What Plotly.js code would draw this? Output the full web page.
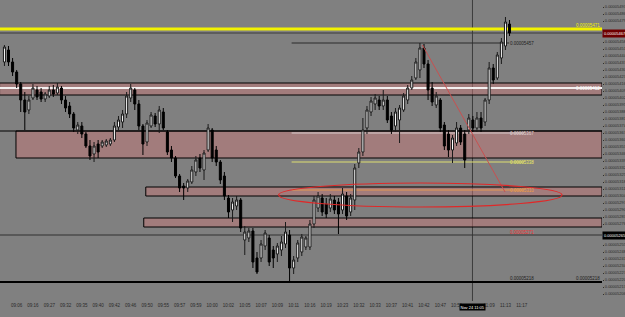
<!DOCTYPE html>
<html><head><meta charset="utf-8">
<script src="https://cdn.plot.ly/plotly-3.0.1.min.js"></script>
<style>html,body{margin:0;padding:0;background:#808080;}#chart{width:625px;height:317px;}</style>
</head><body><div id="chart"></div>
<script>
// time labels, one every 4 bars
const timeLabels = ["09:06","09:16","09:27","09:32","09:35","09:40","09:42","09:46","09:50","09:55","09:57","09:59",
  "10:00","10:02","10:05","10:07","10:09","10:11","10:16","10:19","10:23","10:32","10:33","10:37","10:41","10:42",
  "10:47","10:51","11:05","11:09","11:13","11:17"];
const cursorTime = "Nov 24 11:05";

const openP = [5438e-8,5450e-8,5438e-8,5428e-8,5416e-8,5400e-8,5390e-8,5402e-8,5410e-8,5408e-8,5401e-8,5404e-8,5410e-8,5407e-8,5412e-8,5400e-8,5394e-8,5386e-8,5370e-8,5374e-8,
5366e-8,5354e-8,5346e-8,5356e-8,5354e-8,5355e-8,5356e-8,5360e-8,5373e-8,5378e-8,5386e-8,5402e-8,5410e-8,5396e-8,5374e-8,5358e-8,5374e-8,5384e-8,5376e-8,5388e-8,
5368e-8,5350e-8,5342e-8,5324e-8,5314e-8,5312e-8,5318e-8,5328e-8,5342e-8,5330e-8,5350e-8,5370e-8,5350e-8,5338e-8,5324e-8,5302e-8,5290e-8,5294e-8,5300e-8,5260e-8,
5262e-8,5269e-8,5242e-8,5242e-8,5254e-8,5262e-8,5250e-8,5246e-8,5250e-8,5256e-8,5265e-8,5232e-8,5242e-8,5248e-8,5253e-8,5253e-8,5276e-8,5292e-8,5302e-8,5296e-8,
5292e-8,5300e-8,5298e-8,5290e-8,5304e-8,5288e-8,5300e-8,5337e-8,5348e-8,5372e-8,5388e-8,5396e-8,5400e-8,5394e-8,5400e-8,5384e-8,5374e-8,5380e-8,5390e-8,5400e-8,
5412e-8,5422e-8,5430e-8,5452e-8,5436e-8,5412e-8,5395e-8,5400e-8,5375e-8,5366e-8,5350e-8,5357e-8,5372e-8,5366e-8,5370e-8,5380e-8,5372e-8,5382e-8,5378e-8,5400e-8,
5432e-8,5422e-8,5442e-8,5454e-8,5476e-8];
const highP = [5455e-8,5454e-8,5442e-8,5430e-8,5418e-8,5408e-8,5404e-8,5416e-8,5414e-8,5412e-8,5408e-8,5414e-8,5415e-8,5417e-8,5414e-8,5404e-8,5398e-8,5388e-8,5378e-8,5378e-8,
5368e-8,5360e-8,5358e-8,5360e-8,5360e-8,5361e-8,5362e-8,5378e-8,5384e-8,5390e-8,5408e-8,5416e-8,5412e-8,5400e-8,5376e-8,5380e-8,5388e-8,5387e-8,5394e-8,5392e-8,
5370e-8,5354e-8,5344e-8,5326e-8,5317e-8,5321e-8,5334e-8,5344e-8,5346e-8,5350e-8,5376e-8,5372e-8,5354e-8,5340e-8,5328e-8,5305e-8,5302e-8,5304e-8,5302e-8,5274e-8,
5272e-8,5272e-8,5248e-8,5260e-8,5270e-8,5265e-8,5254e-8,5257e-8,5264e-8,5278e-8,5270e-8,5244e-8,5260e-8,5266e-8,5264e-8,5280e-8,5304e-8,5308e-8,5306e-8,5302e-8,
5306e-8,5304e-8,5302e-8,5312e-8,5308e-8,5306e-8,5336e-8,5352e-8,5382e-8,5394e-8,5403e-8,5406e-8,5404e-8,5410e-8,5404e-8,5388e-8,5392e-8,5395e-8,5407e-8,5415e-8,
5424e-8,5442e-8,5457e-8,5456e-8,5440e-8,5418e-8,5408e-8,5402e-8,5378e-8,5370e-8,5365e-8,5378e-8,5375e-8,5370e-8,5386e-8,5384e-8,5388e-8,5388e-8,5402e-8,5438e-8,
5436e-8,5448e-8,5462e-8,5483e-8,5480e-8];
const lowP = [5434e-8,5434e-8,5424e-8,5412e-8,5388e-8,5370e-8,5386e-8,5400e-8,5400e-8,5398e-8,5398e-8,5402e-8,5403e-8,5405e-8,5396e-8,5388e-8,5382e-8,5368e-8,5366e-8,5362e-8,
5352e-8,5340e-8,5338e-8,5342e-8,5352e-8,5353e-8,5354e-8,5358e-8,5370e-8,5372e-8,5382e-8,5398e-8,5390e-8,5370e-8,5345e-8,5354e-8,5372e-8,5373e-8,5367e-8,5370e-8,
5345e-8,5338e-8,5322e-8,5308e-8,5300e-8,5308e-8,5316e-8,5324e-8,5328e-8,5320e-8,5348e-8,5338e-8,5334e-8,5316e-8,5300e-8,5282e-8,5278e-8,5290e-8,5268e-8,5245e-8,
5258e-8,5232e-8,5226e-8,5238e-8,5250e-8,5234e-8,5232e-8,5238e-8,5244e-8,5252e-8,5218e-8,5226e-8,5238e-8,5244e-8,5250e-8,5250e-8,5272e-8,5288e-8,5284e-8,5282e-8,
5288e-8,5286e-8,5266e-8,5286e-8,5280e-8,5284e-8,5290e-8,5332e-8,5344e-8,5366e-8,5384e-8,5390e-8,5390e-8,5390e-8,5377e-8,5366e-8,5368e-8,5357e-8,5388e-8,5396e-8,
5410e-8,5420e-8,5422e-8,5432e-8,5400e-8,5394e-8,5392e-8,5368e-8,5350e-8,5343e-8,5337e-8,5354e-8,5355e-8,5332e-8,5366e-8,5368e-8,5368e-8,5368e-8,5374e-8,5396e-8,
5416e-8,5420e-8,5436e-8,5450e-8,5464e-8];
const closeP = [5453e-8,5438e-8,5428e-8,5416e-8,5400e-8,5388e-8,5400e-8,5412e-8,5403e-8,5401e-8,5406e-8,5410e-8,5406e-8,5413e-8,5400e-8,5392e-8,5386e-8,5372e-8,5375e-8,5366e-8,
5354e-8,5344e-8,5354e-8,5348e-8,5358e-8,5359e-8,5360e-8,5374e-8,5380e-8,5386e-8,5404e-8,5412e-8,5396e-8,5374e-8,5356e-8,5377e-8,5385e-8,5376e-8,5390e-8,5372e-8,
5348e-8,5342e-8,5324e-8,5312e-8,5312e-8,5319e-8,5330e-8,5340e-8,5332e-8,5347e-8,5372e-8,5342e-8,5338e-8,5320e-8,5304e-8,5288e-8,5298e-8,5300e-8,5272e-8,5268e-8,
5269e-8,5238e-8,5228e-8,5256e-8,5267e-8,5238e-8,5242e-8,5254e-8,5258e-8,5268e-8,5232e-8,5240e-8,5257e-8,5263e-8,5262e-8,5276e-8,5300e-8,5304e-8,5288e-8,5286e-8,
5301e-8,5290e-8,5286e-8,5306e-8,5284e-8,5302e-8,5332e-8,5348e-8,5370e-8,5390e-8,5399e-8,5402e-8,5394e-8,5400e-8,5380e-8,5370e-8,5388e-8,5392e-8,5404e-8,5412e-8,
5420e-8,5438e-8,5452e-8,5436e-8,5410e-8,5398e-8,5404e-8,5372e-8,5354e-8,5350e-8,5362e-8,5372e-8,5358e-8,5340e-8,5382e-8,5372e-8,5382e-8,5372e-8,5400e-8,5432e-8,
5420e-8,5445e-8,5458e-8,5478e-8,5467e-8];

// price levels drawn on the chart
const yellowLevel = 5471e-8;
const upperLevel = 5457e-8;
const zoneA = [5405e-8, 5417e-8];
const zoneAMid = 5412e-8;
const zoneB = [5342e-8, 5369e-8];
const zoneBLine = 5367e-8;
const lightYellowLevel = 5338e-8;
const zoneC = [5304e-8, 5313e-8];
const orangeLevel = 5310e-8;
const zoneD = [5273e-8, 5282e-8];
const redLevel = 5271e-8;
const askLevel = 5265e-8;
const supportLevel = 5218e-8;
const trendPrices = [5455e-8, 5308e-8];
const ellipsePrices = [5293e-8, 5317e-8];

const barX = openP.map((_, i) => i);
const CURSOR_X = 114.9;
const XMAX = 146.7;
const lastClose = closeP[closeP.length - 1];
const fmt = v => v.toFixed(8);
const FONT = "Liberation Sans, Arial, sans-serif";

// x ticks: one every 4 bars; the one under the cursor time box is hidden by it
const xTickVals = [], xTickText = [];
timeLabels.forEach((t, k) => {
  const v = 3 + 4 * k;
  if (Math.abs(v - CURSOR_X) > 2) { xTickVals.push(v); xTickText.push(t); }
});
// y ticks every 7e-8, skipping those covered by the price boxes
const yTickVals = [];
for (let n = 5493; n > 5199; n -= 7) {
  const v = n * 1e-8;
  if (Math.abs(v - lastClose) > 5.5e-8 && Math.abs(v - askLevel) > 5.5e-8) yTickVals.push(v);
}

function hline(y, x0, x1, color, width, layer) {
  return {type:'line', xref:'x', yref:'y', x0:x0, x1:x1, y0:y, y1:y,
          line:{color:color, width:width}, layer:layer || 'below'};
}
function zone(lo, hi, x0) {
  return {type:'rect', xref:'x', yref:'y', x0:x0, x1:XMAX, y0:lo, y1:hi,
          fillcolor:'rgba(196,120,120,0.5)', line:{color:'#000000', width:1}, layer:'below'};
}
const shapes = [
  zone(zoneA[0], zoneA[1], -1.2),
  hline(zoneAMid, -1.2, XMAX, '#f4f0f0', 2),
  zone(zoneB[0], zoneB[1], 2.83),
  hline(zoneB[1], -1.2, XMAX, '#000000', 1),
  zone(zoneC[0], zoneC[1], 34.7),
  zone(zoneD[0], zoneD[1], 34.2),
  hline(yellowLevel, -1.2, XMAX, '#f2f200', 3),
  hline(lastClose, -1.2, XMAX, '#3a3a3a', 1),
  hline(upperLevel, 70.5, 123.9, '#2a2a2a', 1),
  hline(zoneBLine, 70.5, 127.6, '#d8cccc', 1),
  hline(lightYellowLevel, 70.5, 127.6, '#dede70', 1),
  hline(orangeLevel, 70.5, 127.6, '#e89a50', 1),
  hline(askLevel, -1.2, XMAX, '#303030', 1),
  hline(supportLevel, -1.2, XMAX, '#000000', 2),
  {type:'line', xref:'x', yref:'paper', x0:CURSOR_X, x1:CURSOR_X, y0:0, y1:1, line:{color:'#3c3c3c', width:1}, layer:'below'},
  {type:'line', xref:'x', yref:'y', x0:102.6, x1:122.9, y0:trendPrices[0], y1:trendPrices[1], line:{color:'#c85050', width:1}, layer:'above'},
  {type:'circle', xref:'x', yref:'y', x0:67.3, x1:136.9, y0:ellipsePrices[0], y1:ellipsePrices[1], line:{color:'#e02828', width:1.2}, layer:'above'}
];

function lab(x, y, text, color, xanchor, yanchor) {
  return {x:x, y:y, xref:'x', yref:'y', text:text, showarrow:false,
    xanchor:xanchor, yanchor:yanchor, font:{family:FONT, size:4.5, color:color}, borderpad:0};
}
function axisBox(y, text, bg) {
  return {x:1, xref:'paper', y:y, yref:'y', text:text, showarrow:false, xanchor:'left', yanchor:'middle',
    xshift:0, bgcolor:bg, font:{family:FONT, size:4, color:'#ffffff'}, borderpad:1};
}
const annotations = [
  lab(146.4, yellowLevel, fmt(yellowLevel), '#f2f200', 'right', 'bottom'),
  lab(123.9, upperLevel, fmt(upperLevel), '#202020', 'left', 'middle'),
  lab(146.4, zoneAMid, fmt(zoneAMid), '#ffffff', 'right', 'middle'),
  lab(123.9, zoneBLine, fmt(zoneBLine), '#e0d6d6', 'left', 'middle'),
  lab(123.9, lightYellowLevel, fmt(lightYellowLevel), '#eeee60', 'left', 'middle'),
  lab(123.9, orangeLevel, fmt(orangeLevel), '#f0a040', 'left', 'middle'),
  lab(123.9, redLevel, fmt(redLevel), '#f03030', 'left', 'top'),
  lab(123.9, supportLevel, fmt(supportLevel), '#202020', 'left', 'bottom'),
  lab(146.4, supportLevel, fmt(supportLevel), '#202020', 'right', 'bottom'),
  axisBox(lastClose, fmt(lastClose), '#6e0000'),
  axisBox(askLevel, fmt(askLevel), '#000000'),
  {x:CURSOR_X, xref:'x', y:0, yref:'paper', text:cursorTime, showarrow:false, xanchor:'center', yanchor:'top',
   yshift:-2, bgcolor:'#000000', font:{family:FONT, size:4, color:'#ffffff'}, borderpad:0.5}
];

const trace = {
  type:'candlestick', x:barX, open:openP, high:highP, low:lowP, close:closeP,
  increasing:{line:{color:'#1a1a1a', width:1}, fillcolor:'#ffffff'},
  decreasing:{line:{color:'#000000', width:1}, fillcolor:'#000000'},
  whiskerwidth:0, hoverinfo:'skip'
};

const layout = {
  width:625, height:317, margin:{l:0, r:23, t:0, b:16},
  paper_bgcolor:'#808080', plot_bgcolor:'#808080', showlegend:false,
  font:{family:FONT, size:5, color:'#2a2a2a'},
  xaxis:{range:[-1.09, XMAX], rangeslider:{visible:false}, tickvals:xTickVals, ticktext:xTickText,
         tickfont:{family:FONT, size:4.5, color:'#2a2a2a'}, showgrid:false, zeroline:false, showline:false,
         ticks:'', tickangle:0},
  yaxis:{side:'right', range:[5199e-8, 5500e-8], tickvals:yTickVals, tickformat:'.8f',
         tickfont:{family:FONT, size:4, color:'#2a2a2a'}, showgrid:false, zeroline:false, showline:false,
         ticks:'outside', ticklen:1, tickcolor:'#303030'},
  shapes:shapes, annotations:annotations
};

Plotly.newPlot('chart', [trace], layout, {staticPlot:true, displayModeBar:false});
</script></body></html>
